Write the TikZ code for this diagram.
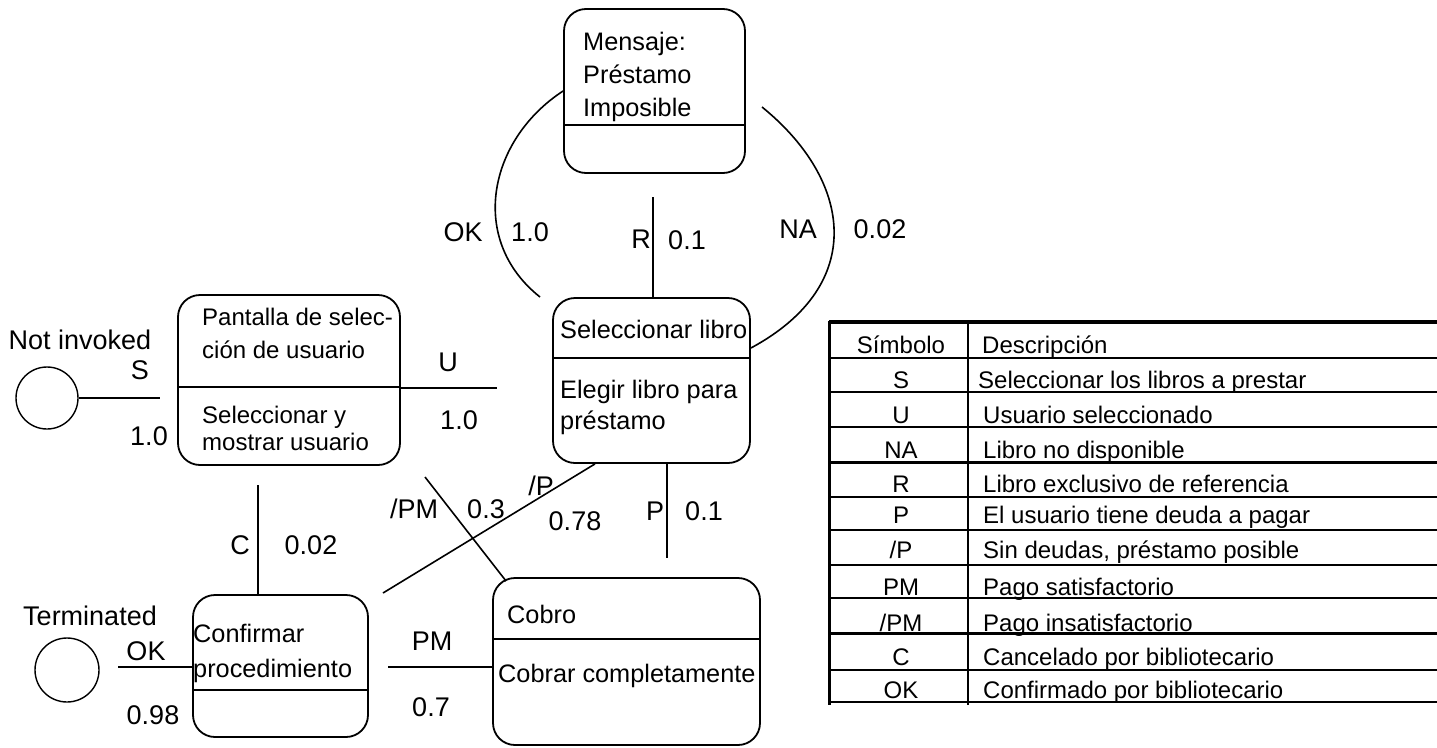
\documentclass[tikz,border=0pt]{standalone}
\usepackage{fontspec}
\setmainfont{Liberation Sans}
\usetikzlibrary{calc}
\begin{document}
\begin{tikzpicture}[x=1pt,y=-1pt,
  box/.style={draw, rounded corners=22pt, line width=1.8pt, inner sep=0pt},
  wire/.style={line width=1.6pt},
  btxt/.style={anchor=base west, inner sep=0pt, font=\fontsize{25.3}{29}\selectfont},
  ptxt/.style={anchor=base west, inner sep=0pt, font=\fontsize{24}{28}\selectfont},
  lbl/.style={inner sep=0pt, font=\fontsize{27}{31}\selectfont},
  tt/.style={anchor=base, inner sep=0pt, font=\fontsize{24}{28}\selectfont},
  td/.style={anchor=base west, inner sep=0pt, font=\fontsize{24}{28}\selectfont},
  state/.style={draw, circle, line width=1.4pt, inner sep=0pt},
  tline/.style={line width=2pt},
  tthick/.style={line width=3pt}]
\useasboundingbox (0,0) rectangle (1437,747);

% boxes
\node[box, minimum width=181pt, minimum height=164pt] (msg) at (654.5,91) {};
\node[box, minimum width=222pt, minimum height=170pt] (pant) at (289,380) {};
\node[box, minimum width=197pt, minimum height=165pt] (sel) at (651.5,380.5) {};
\node[box, minimum width=175pt, minimum height=142pt] (conf) at (280.5,666) {};
\node[box, minimum width=267pt, minimum height=167pt] (cobro) at (626.5,661.5) {};

\coordinate (dmsg) at (0,125);
\coordinate (dpant) at (0,387);
\coordinate (dsel) at (0,358);
\coordinate (dconf) at (0,690);
\coordinate (dcobro) at (0,639);
\draw[wire] (msg.west |- dmsg) -- (msg.east |- dmsg);
\draw[wire] (pant.west |- dpant) -- (pant.east |- dpant);
\draw[wire] (sel.west |- dsel) -- (sel.east |- dsel);
\draw[wire] (conf.west |- dconf) -- (conf.east |- dconf);
\draw[wire] (cobro.west |- dcobro) -- (cobro.east |- dcobro);

% box texts
\node[btxt] (m1) at (583,50) {Mensaje:};
\node[btxt] (m2) at (583,83) {Préstamo};
\node[btxt] (m3) at (583,116) {Imposible};
\node[ptxt] (p1) at (202,325) {Pantalla de selec-};
\node[ptxt] (p2) at (202,358) {ción de usuario};
\node[ptxt] (p3) at (202,423) {Seleccionar y};
\node[ptxt] (p4) at (202,450) {mostrar usuario};
\node[btxt] (s1) at (560,338) {Seleccionar libro};
\node[btxt] (s2) at (560,398) {Elegir libro para};
\node[btxt] (s3) at (560,429) {préstamo};
\node[btxt] (c1) at (193,642) {Confirmar};
\node[btxt] (c2) at (193,677) {procedimiento};
\node[btxt] (k1) at (507,623) {Cobro};
\node[btxt] (k2) at (498,682) {Cobrar completamente};

% states
\node[state, minimum size=62pt] (ni) at (47,398) {};
\node[state, minimum size=64pt] (term) at (67,670) {};

% connectors
\coordinate (sEnd) at (160,398);
\draw[wire] (ni.east) -- (sEnd);
\coordinate (uEnd) at (497,388);
\draw[wire] (pant.east |- uEnd) -- (uEnd);
\coordinate (okEnd) at (540,297);
\draw[wire] (msg.west) .. controls (488,140) and (468,240) .. (okEnd);
\coordinate (rTop) at (653,197);
\draw[wire] (rTop) -- (rTop |- sel.north);
\coordinate (naStart) at (762,107);
\coordinate (naY) at (0,348);
\draw[wire] (naStart) .. controls (852,180) and (868,285) .. (sel.east |- naY);
\coordinate (pEnd) at (667,558);
\draw[wire] (pEnd |- sel.south) -- (pEnd);
\coordinate (npX) at (595,0);
\coordinate (npEnd) at (383,593);
\draw[wire] (npX |- sel.south) -- (npEnd);
\coordinate (npmStart) at (425,477);
\draw[wire] (npmStart) -- ($(cobro.north west)+(14,4)$);
\coordinate (cTop) at (258,485);
\draw[wire] (cTop) -- (cTop |- conf.north);
\coordinate (pmStart) at (388,667);
\draw[wire] (pmStart) -- (pmStart -| cobro.west);
\coordinate (okStart) at (118,667);
\draw[wire] (okStart) -- (okStart -| conf.west);

% labels
\node[lbl] (lni) at (80,340) {Not invoked};
\node[lbl] (lS) at (140,370) {S};
\node[lbl] (lS1) at (149,436) {1.0};
\node[lbl] (lU) at (448,362) {U};
\node[lbl] (lU1) at (459,420) {1.0};
\node[lbl] (lOK) at (463,232) {OK};
\node[lbl] (lOK1) at (530,232) {1.0};
\node[lbl] (lR) at (641,239) {R};
\node[lbl] (lR1) at (687,240) {0.1};
\node[lbl] (lNA) at (798,229) {NA};
\node[lbl] (lNA1) at (880,229) {0.02};
\node[lbl] (lC) at (240,545) {C};
\node[lbl] (lC1) at (311,545) {0.02};
\node[lbl] (lnPM) at (414,509) {/PM};
\node[lbl] (lnPM1) at (486,509) {0.3};
\node[lbl] (lnP) at (541,486) {/P};
\node[lbl] (lnP1) at (575,521) {0.78};
\node[lbl] (lP) at (655,511) {P};
\node[lbl] (lP1) at (704,511) {0.1};
\node[lbl] (lPM) at (432,641) {PM};
\node[lbl] (lPM1) at (431,707) {0.7};
\node[lbl] (lterm) at (90,616) {Terminated};
\node[lbl] (lOKt) at (146,651) {OK};
\node[lbl] (lOKt1) at (153,715) {0.98};

% table
\draw[line width=3.5pt] (829,322) -- (1437,322);
\foreach \yy in {358,392,427,497,530,565,598,670,702}
  \draw[tline] (829,\yy) -- (1437,\yy);
\foreach \yy in {462,633}
  \draw[tthick] (829,\yy) -- (1437,\yy);
\draw[tthick] (829,320.5) -- (829,705);
\draw[tline] (968,322) -- (968,705);

\node[tt] (h1) at (901,353) {Símbolo};
\node[td] (h2) at (982,353) {Descripción};
\node[tt] (a1) at (901,388) {S};
\node[td] (a2) at (978,388) {Seleccionar los libros a prestar};
\node[tt] (b1) at (901,423) {U};
\node[td] (b2) at (983,423) {Usuario seleccionado};
\node[tt] (c1t) at (901,458) {NA};
\node[td] (c2t) at (983,458) {Libro no disponible};
\node[tt] (d1) at (901,492) {R};
\node[td] (d2) at (983,492) {Libro exclusivo de referencia};
\node[tt] (e1) at (901,523) {P};
\node[td] (e2) at (983,523) {El usuario tiene deuda a pagar};
\node[tt] (f1) at (901,558) {/P};
\node[td] (f2) at (983,558) {Sin deudas, préstamo posible};
\node[tt] (g1) at (901,595) {PM};
\node[td] (g2) at (983,595) {Pago satisfactorio};
\node[tt] (i1) at (901,631) {/PM};
\node[td] (i2) at (983,631) {Pago insatisfactorio};
\node[tt] (j1) at (901,665) {C};
\node[td] (j2) at (983,665) {Cancelado por bibliotecario};
\node[tt] (l1) at (901,698) {OK};
\node[td] (l2) at (983,698) {Confirmado por bibliotecario};
\end{tikzpicture}
\end{document}
